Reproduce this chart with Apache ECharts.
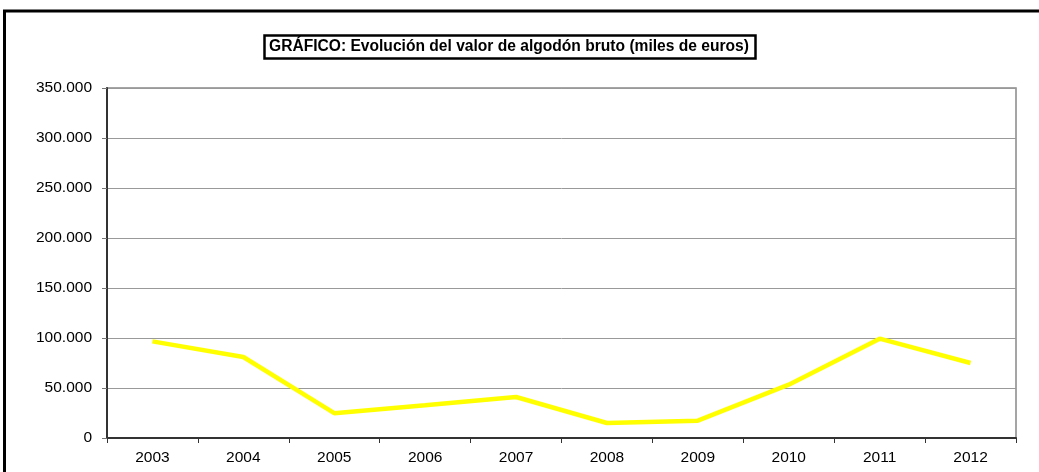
<!DOCTYPE html>
<html>
<head>
<meta charset="utf-8">
<script src="https://cdn.jsdelivr.net/npm/echarts@6/dist/echarts.min.js"></script>
<style>
html,body{margin:0;padding:0;background:#fff;}
#chart{width:1039px;height:472px;}
</style>
</head>
<body>
<div id="chart"></div>
<script>
const years = ['2003','2004','2005','2006','2007','2008','2009','2010','2011','2012'];
const valores = [96600, 81000, 24800, 32800, 41000, 15000, 17300, 53300, 99300, 75000];
const titulo = 'GRÁFICO: Evolución del valor de algodón bruto (miles de euros)';

function fmt(v){
  return String(v).replace(/\B(?=(\d{3})+(?!\d))/g, '.');
}

const FF = 'Liberation Sans, Arial, sans-serif';
const chart = echarts.init(document.getElementById('chart'), null, {renderer:'canvas'});
chart.setOption({
  animation:false,
  backgroundColor:'#fff',
  textStyle:{fontFamily:FF},
  title:{
    text:titulo,
    left:264, top:35,
    padding:[3,7,3,5],
    borderColor:'#000', borderWidth:2.5,
    textStyle:{fontSize:15.6, fontWeight:'bold', color:'#000', fontFamily:FF, lineHeight:18}
  },
  graphic:[
    {type:'line', shape:{x1:3, y1:11, x2:1039, y2:11}, style:{stroke:'#000', lineWidth:3}},
    {type:'line', shape:{x1:4.5, y1:10, x2:4.5, y2:472}, style:{stroke:'#000', lineWidth:3}}
  ],
  grid:{left:107, right:23, top:88, bottom:34, show:true, borderColor:'#888', borderWidth:1.5, containLabel:false},
  xAxis:{
    type:'category', data:years, boundaryGap:true,
    axisLine:{lineStyle:{color:'#333', width:2}},
    axisTick:{show:true, inside:false, length:5, lineStyle:{color:'#333', width:1}},
    axisLabel:{color:'#000', fontSize:15.5, margin:12, fontFamily:FF},
    splitLine:{show:false}
  },
  yAxis:{
    type:'value', min:0, max:350000, interval:50000,
    axisLine:{show:true, lineStyle:{color:'#333', width:2}},
    axisTick:{show:true, inside:false, length:5, lineStyle:{color:'#777', width:1}},
    axisLabel:{color:'#000', fontSize:15.5, margin:15, formatter:fmt, fontFamily:FF},
    splitLine:{show:true, lineStyle:{color:'#999', width:1}}
  },
  series:[{
    type:'line', data:valores, symbol:'none',
    lineStyle:{color:'#FFFF00', width:4.5},
    itemStyle:{color:'#FFFF00'}
  }]
});
</script>
</body>
</html>
